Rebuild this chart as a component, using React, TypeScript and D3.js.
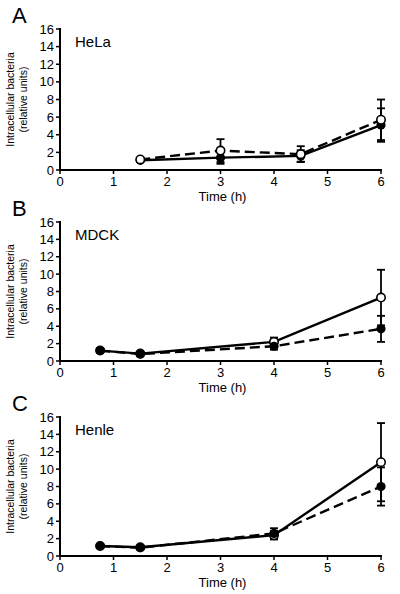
import React from "react";
import * as d3 from "d3";

const xTicks = [0, 1, 2, 3, 4, 5, 6];
const yTicks = [0, 2, 4, 6, 8, 10, 12, 14, 16];

const timesHela = [1.5, 3, 4.5, 6];
const helaOpen = [1.2, 2.2, 1.8, 5.7];
const helaOpenErr = [0.2, 1.3, 0.9, 2.3];
const helaFilled = [1.1, 1.4, 1.6, 5.1];
const helaFilledErr = [0.2, 0.7, 0.65, 1.9];

const timesMdck = [0.75, 1.5, 4, 6];
const mdckOpen = [1.2, 0.85, 2.2, 7.3];
const mdckOpenErr = [0.2, 0.2, 0.5, 3.2];
const mdckFilled = [1.2, 0.8, 1.7, 3.7];
const mdckFilledErr = [0.2, 0.2, 0.4, 1.5];

const timesHenle = [0.75, 1.5, 4, 6];
const henleOpen = [1.15, 1.0, 2.4, 10.8];
const henleOpenErr = [0.2, 0.2, 0.5, 4.5];
const henleFilled = [1.15, 0.95, 2.6, 8.0];
const henleFilledErr = [0.2, 0.2, 0.6, 2.2];

const panels = [
  { letter: "A", cell: "HeLa", t: timesHela, open: helaOpen, openErr: helaOpenErr, filled: helaFilled, filledErr: helaFilledErr, openDashed: true, openOnTop: true },
  { letter: "B", cell: "MDCK", t: timesMdck, open: mdckOpen, openErr: mdckOpenErr, filled: mdckFilled, filledErr: mdckFilledErr, openDashed: false, openOnTop: false },
  { letter: "C", cell: "Henle", t: timesHenle, open: henleOpen, openErr: henleOpenErr, filled: henleFilled, filledErr: henleFilledErr, openDashed: false, openOnTop: false },
];

const layout = [
  { top: 29, bottom: 170 },
  { top: 222, bottom: 361 },
  { top: 417, bottom: 556 },
];

const FONT = "'Liberation Sans', Arial, Helvetica, sans-serif";

function Panel({ p, l }: { p: any; l: { top: number; bottom: number } }) {
  const x = d3.scaleLinear().domain([0, 6]).range([60, 381]);
  const y = d3.scaleLinear().domain([0, 16]).range([l.bottom, l.top]);
  const line = d3.line<[number, number]>().x((d) => x(d[0])).y((d) => y(d[1]));
  const openPts = p.t.map((t: number, i: number) => [t, p.open[i]] as [number, number]);
  const filledPts = p.t.map((t: number, i: number) => [t, p.filled[i]] as [number, number]);
  const errBars = (vals: number[], errs: number[], key: string) =>
    p.t.map((t: number, i: number) => {
      const cx = x(t);
      const y1 = y(vals[i] + errs[i]);
      const y2 = y(vals[i] - errs[i]);
      return (
        <g key={key + i} stroke="#000" strokeWidth={1.8}>
          <line x1={cx} x2={cx} y1={y1} y2={y2} />
          <line x1={cx - 4} x2={cx + 4} y1={y1} y2={y1} />
          <line x1={cx - 4} x2={cx + 4} y1={y2} y2={y2} />
        </g>
      );
    });
  const midY = (l.top + l.bottom) / 2;
  const filledMarks = filledPts.map((d: [number, number], i: number) => (
    <circle key={"f" + i} cx={x(d[0])} cy={y(d[1])} r={4.6} fill="#000" />
  ));
  const openMarks = openPts.map((d: [number, number], i: number) => (
    <circle key={"o" + i} cx={x(d[0])} cy={y(d[1])} r={4.2} fill="#fff" stroke="#000" strokeWidth={1.6} />
  ));
  return (
    <g>
      <text x={12} y={l.top - 6} fontSize={22} fontFamily={FONT}>{p.letter}</text>
      <text x={75} y={l.top + 18} fontSize={15} fontFamily={FONT}>{p.cell}</text>
      <text transform={`translate(14,${midY}) rotate(-90)`} textAnchor="middle" fontSize={10.5} fontFamily={FONT}>Intracellular bacteria</text>
      <text transform={`translate(27,${midY}) rotate(-90)`} textAnchor="middle" fontSize={10.5} fontFamily={FONT}>(relative units)</text>
      <line x1={x(0)} x2={x(6) + 1} y1={y(0)} y2={y(0)} stroke="#000" strokeWidth={2} />
      <line x1={x(0)} x2={x(0)} y1={y(16) - 1} y2={y(0)} stroke="#000" strokeWidth={2} />
      {xTicks.map((t) => (
        <g key={"xt" + t}>
          <line x1={x(t)} x2={x(t)} y1={y(0)} y2={y(0) + 4} stroke="#000" strokeWidth={1.5} />
          <text x={x(t)} y={y(0) + 16} textAnchor="middle" fontSize={13} fontFamily={FONT}>{t}</text>
        </g>
      ))}
      {yTicks.map((t) => (
        <g key={"yt" + t}>
          <line x1={x(0) - 4} x2={x(0)} y1={y(t)} y2={y(t)} stroke="#000" strokeWidth={1.5} />
          <text x={x(0) - 6} y={y(t) + 4.5} textAnchor="end" fontSize={13} fontFamily={FONT}>{t}</text>
        </g>
      ))}
      <text x={(x(0) + x(6)) / 2 + 2} y={y(0) + 31} textAnchor="middle" fontSize={13} fontFamily={FONT}>Time (h)</text>
      <path d={line(openPts) || ""} fill="none" stroke="#000" strokeWidth={2.4} strokeDasharray={p.openDashed ? "10,5" : undefined} />
      <path d={line(filledPts) || ""} fill="none" stroke="#000" strokeWidth={2.4} strokeDasharray={p.openDashed ? undefined : "10,5"} />
      {errBars(p.open, p.openErr, "oe")}
      {errBars(p.filled, p.filledErr, "fe")}
      {p.openOnTop ? filledMarks : openMarks}
      {p.openOnTop ? openMarks : filledMarks}
    </g>
  );
}

export default function App() {
  return (
    <svg width={400} height={594} style={{ position: "absolute", left: 0, top: 0, background: "#fff" }}>
      <rect width={400} height={594} fill="#fff" />
      {panels.map((p, i) => (
        <Panel key={p.letter} p={p} l={layout[i]} />
      ))}
    </svg>
  );
}
